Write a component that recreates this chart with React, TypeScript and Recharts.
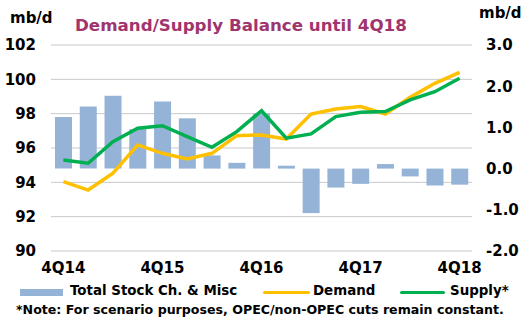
import {
  ComposedChart,
  Bar,
  Line,
  XAxis,
  YAxis,
  CartesianGrid,
} from 'recharts';

const quarters = [
  '4Q14', '1Q15', '2Q15', '3Q15', '4Q15', '1Q16', '2Q16', '3Q16', '4Q16',
  '1Q17', '2Q17', '3Q17', '4Q17', '1Q18', '2Q18', '3Q18', '4Q18',
];
// mb/d, right axis
const stockChange = [1.25, 1.51, 1.77, 0.96, 1.63, 1.22, 0.32, 0.14, 1.34, 0.07, -1.08, -0.46, -0.37, 0.11, -0.19, -0.41, -0.39];
// mb/d, left axis
const demand = [94.04, 93.55, 94.53, 96.18, 95.69, 95.36, 95.69, 96.72, 96.76, 96.52, 97.98, 98.27, 98.41, 97.98, 98.95, 99.77, 100.41];
const supply = [95.3, 95.11, 96.37, 97.15, 97.3, 96.66, 96.04, 96.95, 98.17, 96.57, 96.82, 97.83, 98.08, 98.12, 98.8, 99.28, 100.06];

const leftTicks = [90, 92, 94, 96, 98, 100, 102];
const rightTicks = [-2, -1, 0, 1, 2, 3];
const edgeTicks = quarters.map((_, i) => i).concat(quarters.length);

const data = quarters.map((q, i) => ({
  quarter: q,
  stock: stockChange[i],
  demand: demand[i],
  supply: supply[i],
}));

const BAR = '#95B3D7';
const DEMAND = '#FFC000';
const SUPPLY = '#00B050';
const FONT = '"DejaVu Sans", Verdana, sans-serif';
const tickStyle = { fontSize: 15, fontWeight: 700, fill: '#000', fontFamily: FONT };

export default function App() {
  return (
    <div
      style={{
        position: 'absolute',
        left: 0,
        top: 0,
        width: 528,
        height: 322,
        background: '#fff',
        fontFamily: FONT,
      }}
    >
      <div style={{ position: 'absolute', left: 10, top: 9, fontSize: 15, fontWeight: 700 }}>mb/d</div>
      <div style={{ position: 'absolute', left: 479, top: 4, fontSize: 15, fontWeight: 700 }}>mb/d</div>
      <div
        style={{
          position: 'absolute',
          left: 75,
          top: 15,
          fontSize: 16.7,
          fontWeight: 700,
          color: '#A0346E',
          whiteSpace: 'nowrap',
        }}
      >
        Demand/Supply Balance until 4Q18
      </div>

      <ComposedChart
        width={528}
        height={322}
        data={data}
        margin={{ top: 45, right: 0, left: 0, bottom: 41 }}
      >
        <CartesianGrid yAxisId="left" vertical={false} stroke="#C8C8C8" />
        <XAxis
          xAxisId="edges"
          type="number"
          domain={[0, quarters.length]}
          ticks={edgeTicks}
          tick={false}
          height={0}
          tickSize={6}
          axisLine={{ stroke: '#000', strokeWidth: 1.5 }}
          tickLine={{ stroke: '#000' }}
        />
        <XAxis
          xAxisId="main"
          dataKey="quarter"
          interval={3}
          height={30}
          axisLine={false}
          tickLine={false}
          tickMargin={5}
          tick={tickStyle}
        />
        <YAxis
          yAxisId="left"
          domain={[90, 102]}
          ticks={leftTicks}
          width={51}
          axisLine={false}
          tickLine={false}
          tickMargin={9}
          tick={tickStyle}
        />
        <YAxis
          yAxisId="right"
          orientation="right"
          domain={[-2, 3]}
          ticks={rightTicks}
          width={56}
          axisLine={false}
          tickLine={false}
          tickMargin={8}
          tickFormatter={(v: number) => v.toFixed(1)}
          tick={tickStyle}
        />
        <Bar xAxisId="main" yAxisId="right" dataKey="stock" fill={BAR} barSize={17} isAnimationActive={false} />
        <Line
          xAxisId="main"
          yAxisId="left"
          type="linear"
          dataKey="demand"
          stroke={DEMAND}
          strokeWidth={3.5}
          dot={false}
          isAnimationActive={false}
        />
        <Line
          xAxisId="main"
          yAxisId="left"
          type="linear"
          dataKey="supply"
          stroke={SUPPLY}
          strokeWidth={3.5}
          dot={false}
          isAnimationActive={false}
        />
      </ComposedChart>

      <div
        style={{
          position: 'absolute',
          left: 0,
          top: 283,
          width: 528,
          height: 18,
          fontSize: 13.4,
          fontWeight: 700,
          whiteSpace: 'nowrap',
        }}
      >
        <span style={{ position: 'absolute', left: 20, top: 6, width: 43, height: 7, background: BAR }} />
        <span style={{ position: 'absolute', left: 70, top: 0 }}>Total Stock Ch. &amp; Misc</span>
        <span style={{ position: 'absolute', left: 263, top: 8, width: 47, height: 3, background: DEMAND, borderRadius: 2 }} />
        <span style={{ position: 'absolute', left: 313, top: 0 }}>Demand</span>
        <span style={{ position: 'absolute', left: 400, top: 8, width: 45, height: 3, background: SUPPLY, borderRadius: 2 }} />
        <span style={{ position: 'absolute', left: 450, top: 0 }}>Supply*</span>
      </div>
      <div
        style={{
          position: 'absolute',
          left: 16,
          top: 302,
          fontSize: 12.6,
          fontWeight: 700,
          whiteSpace: 'nowrap',
        }}
      >
        *Note: For scenario purposes, OPEC/non-OPEC cuts remain constant.
      </div>
    </div>
  );
}
